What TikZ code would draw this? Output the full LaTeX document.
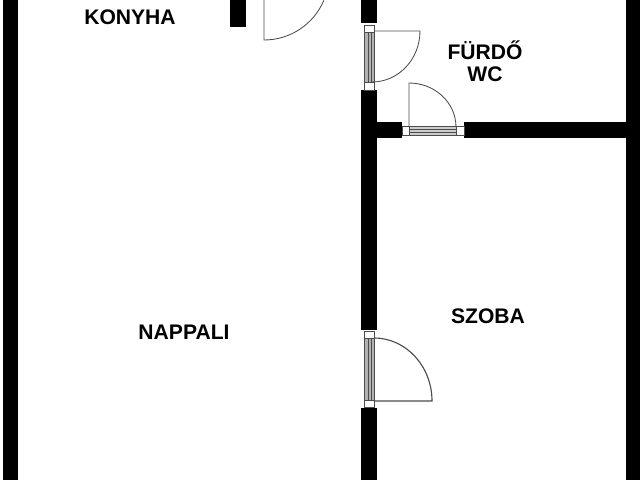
\documentclass[tikz,border=0pt]{standalone}
\usepackage{fontspec}
\setmainfont{Liberation Sans}
\begin{document}
\begin{tikzpicture}[x=0.025cm,y=-0.025cm]
        \tikzstyle{wall}=[fill=black,draw=none]
        \tikzstyle{leaf}=[draw=black!70,line width=0.6pt]
        \tikzstyle{pane}=[fill=black!30,draw=black!70,line width=0.4pt]
        \tikzstyle{jamb}=[fill=white,draw=black!70,line width=0.5pt]
        \tikzstyle{room}=[font=\fontsize{15}{17}\selectfont\bfseries,inner sep=0pt,align=center]

        \useasboundingbox (0,0) rectangle (640,480);

        % walls
        \fill[wall] (3,0) rectangle (18,480);
        \fill[wall] (626,0) rectangle (640,480);
        \fill[wall] (230,0) rectangle (246,27);
        \fill[wall] (361,0) rectangle (377,23);
        \fill[wall] (361,90) rectangle (377,330);
        \fill[wall] (361,408) rectangle (377,480);
        \fill[wall] (377,122) rectangle (402,138);
        \fill[wall] (464,122) rectangle (626,138);

        % kitchen door
        \draw[leaf] (264,0) -- (264,40) arc (90:23:65);

        % bathroom door in the long wall
        \draw[jamb] (364,25) rectangle (374,32);
        \draw[jamb] (364,82) rectangle (374,90);
        \draw[pane] (364,32) rectangle (374,82);
        \draw[draw=black!70,line width=0.4pt] (368,32) -- (368,82) (371,32) -- (371,82);
        \draw[leaf] (374,31) -- (420,31) arc (0:90:48 and 51);

        % bathroom door in the cross wall
        \draw[jamb] (402,126) rectangle (409,135);
        \draw[jamb] (456,126) rectangle (464,135);
        \draw[pane,fill=black!20] (409,126) rectangle (456,135);
        \draw[draw=black!70,line width=0.4pt] (409,129) -- (456,129) (409,132) -- (456,132);
        \draw[leaf] (409,127) -- (409,83) arc (-90:0:47 and 44);

        % room door
        \draw[jamb] (364,331) rectangle (374,338);
        \draw[jamb] (364,400) rectangle (374,407);
        \draw[pane] (364,338) rectangle (374,400);
        \draw[draw=black!70,line width=0.4pt] (368,338) -- (368,400) (371,338) -- (371,400);
        \draw[leaf,line width=0.8pt] (374,401) -- (432,401) arc (0:-90:58 and 63);

        % room names
        \node[room] (konyha) at (130,17) {KONYHA};
        \node[room] (furdo) at (485,50) {FÜRDŐ};
        \node[room] (wc) at (485,74) {WC};
        \node[room] (nappali) at (184,332) {NAPPALI};
        \node[room] (szoba) at (488,316) {SZOBA};
    \end{tikzpicture}
\end{document}
